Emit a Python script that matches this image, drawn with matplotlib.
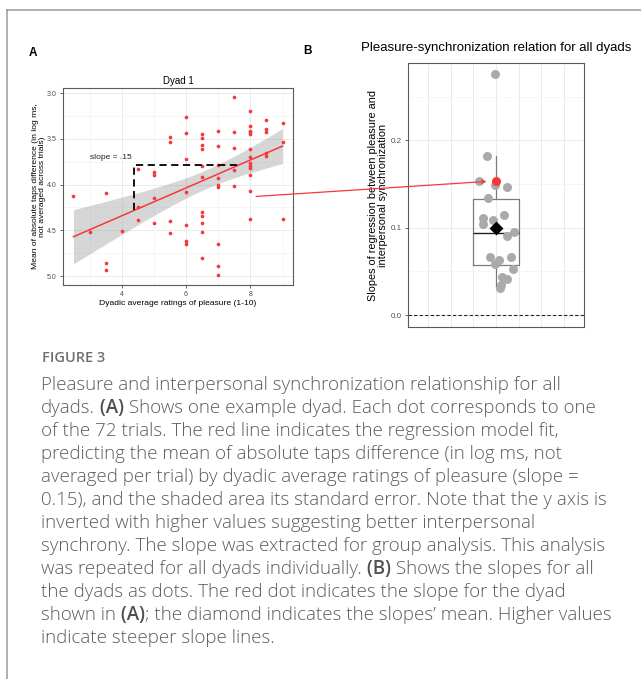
import numpy as np
import matplotlib
matplotlib.use('Agg')
import matplotlib.pyplot as plt
from matplotlib.patches import ConnectionPatch
from matplotlib.lines import Line2D

# ---- Panel A data (one dyad, one dot per trial) ----
pleasure = ([2.5, 3.0] + [3.5] * 3 + [4.0] + [4.5] * 3 + [5.0] * 4 + [5.5] * 4 +
            [6.0] * 7 + [6.5] * 11 + [7.0] * 9 + [7.5] * 5 + [8.0] * 13 +
            [8.5] * 5 + [9.0] * 3)
taps_diff = [4.12, 4.52,
             4.09, 4.86, 4.93,
             4.51,
             3.83, 4.25, 4.39,
             3.86, 3.90, 4.15, 4.42,
             3.48, 3.54, 4.40, 4.53,
             3.26, 3.44, 3.72, 4.08, 4.44, 4.62, 4.65,
             3.45, 3.49, 3.57, 3.61, 3.80, 3.92, 4.30, 4.34, 4.42, 4.52, 4.80,
             3.41, 3.58, 3.79, 3.93, 4.01, 4.03, 4.65, 4.89, 4.99,
             3.04, 3.43, 3.60, 3.84, 4.02,
             3.20, 3.36, 3.41, 3.43, 3.45, 3.61, 3.70, 3.77, 3.80, 3.82, 3.90, 4.07, 4.38,
             3.30, 3.39, 3.43, 3.66, 3.69,
             3.33, 3.53, 4.38]

# ---- Panel B data (slopes of all dyads) ----
slopes = [0.276, 0.182, 0.153, 0.149, 0.147, 0.134, 0.111, 0.104, 0.109, 0.115,
          0.095, 0.091, 0.066, 0.063, 0.058, 0.066, 0.053, 0.044, 0.041, 0.034, 0.031]
jitter = [-0.003, -0.040, -0.075, -0.006, 0.049, -0.037, -0.056, -0.057, -0.013, 0.037,
          0.079, 0.049, -0.028, 0.015, -0.006, 0.066, 0.075, 0.025, 0.049, 0.021, 0.018]
example_slope = 0.153
mean_slope = 0.0996
box_stats = dict(med=0.094, q1=0.057, q3=0.133, whislo=0.032, whishi=0.182)

caption_title = "FIGURE 3"
caption_lines = [
    [("Pleasure and interpersonal synchronization relationship for all", False)],
    [("dyads.", False), (" (A)", True), (" Shows one example dyad. Each dot corresponds to one", False)],
    [("of the 72 trials. The red line indicates the regression model fit,", False)],
    [("predicting the mean of absolute taps difference (in log ms, not", False)],
    [("averaged per trial) by dyadic average ratings of pleasure (slope =", False)],
    [("0.15), and the shaded area its standard error. Note that the y axis is", False)],
    [("inverted with higher values suggesting better interpersonal", False)],
    [("synchrony. The slope was extracted for group analysis. This analysis", False)],
    [("was repeated for all dyads individually.", False), (" (B)", True),
     (" Shows the slopes for all", False)],
    [("the dyads as dots. The red dot indicates the slope for the dyad", False)],
    [("shown in", False), (" (A)", True),
     ("; the diamond indicates the slopes\u2019 mean. Higher values", False)],
    [("indicate steeper slope lines.", False)],
]

W, H = 641, 679
plt.rcParams['font.family'] = ['Liberation Sans', 'DejaVu Sans']
fig = plt.figure(figsize=(W / 100, H / 100), dpi=100)

RED = '#F8373A'
GRID = '#EBEBEB'
BORDER = '#5A5A5A'
TICK = '#4D4D4D'


def px_axes(l, t, r, b):
    return fig.add_axes([l / W, 1 - b / H, (r - l) / W, (b - t) / H])


def style_axes(ax):
    for s in ax.spines.values():
        s.set_color(BORDER)
        s.set_linewidth(0.8)
    ax.tick_params(colors=TICK, labelcolor=TICK, length=2.5, width=0.6)
    ax.set_axisbelow(True)


# ---- Panel A ----
ax1 = px_axes(63, 88, 293, 285)
style_axes(ax1)
x = np.array(pleasure)
y = np.array(taps_diff)
b, a = np.polyfit(x, y, 1)
xs = np.linspace(x.min(), x.max(), 100)
yfit = a + b * xs
resid = y - (a + b * x)
s = np.sqrt(np.sum(resid ** 2) / (len(x) - 2))
se = s * np.sqrt(1 / len(x) + (xs - x.mean()) ** 2 / np.sum((x - x.mean()) ** 2))
ax1.fill_between(xs, yfit - 1.99 * se, yfit + 1.99 * se, color='#999999', alpha=0.4,
                 lw=0, zorder=2)
ax1.scatter(x, y, s=7, color=RED, zorder=3, lw=0)
ax1.plot(xs, yfit, color=RED, lw=1.1, zorder=4)
ax1.plot([4.38, 4.38, 7.6], [4.28, 3.79, 3.79], color='black', lw=1.3,
         ls=(0, (4, 2.5)), zorder=5)
ax1.text(3.65, 3.70, 'slope = .15', fontsize=6, ha='center', va='center', color='#222222')
ax1.set_xlim(2.175, 9.325)
ax1.set_ylim(5.098, 2.945)
ax1.set_xticks([4, 6, 8])
ax1.set_xticks([3, 5, 7, 9], minor=True)
ax1.set_yticks([3.0, 3.5, 4.0, 4.5, 5.0])
ax1.set_yticks([3.25, 3.75, 4.25, 4.75], minor=True)
ax1.set_yticklabels(['3.0', '3.5', '4.0', '4.5', '5.0'])
ax1.tick_params(which='both', labelsize=5, pad=2)
ax1.tick_params(which='minor', length=0)
ax1.grid(True, which='major', color=GRID, lw=0.7)
ax1.grid(True, which='minor', color='#F3F3F3', lw=0.5)
ax1.set_title('Dyad 1', fontsize=7, pad=3)
ax1.set_xlabel('Dyadic average ratings of pleasure (1-10)', fontsize=6.1, labelpad=1.5)
ax1.set_ylabel('Mean of absolute taps difference (in log ms,\nnot averaged across trials)',
               fontsize=6.1, labelpad=0.5, linespacing=1.05)

# ---- Panel B ----
ax2 = px_axes(408, 63, 584, 327)
style_axes(ax2)
ax2.bxp([dict(box_stats, fliers=[])], positions=[0], widths=0.2, showfliers=False,
        boxprops=dict(color='#7A7A7A', lw=0.9),
        whiskerprops=dict(color='#7A7A7A', lw=0.9),
        capprops=dict(lw=0), medianprops=dict(color='#222222', lw=1.0), zorder=2)
ax2.scatter(jitter, slopes, s=42, color='#AAAAAA', lw=0, zorder=3)
ax2.scatter([0], [example_slope], s=42, color=RED, lw=0, zorder=4)
ax2.scatter([0], [mean_slope], s=50, marker='D', color='black', lw=0, zorder=5)
ax2.axhline(0, color='#222222', lw=0.8, ls=(0, (3, 2)), zorder=2)
ax2.set_xlim(-0.39, 0.39)
ax2.set_ylim(-0.0137, 0.2887)
ax2.set_xticks([-0.3, -0.2, -0.1, 0, 0.1, 0.2, 0.3])
ax2.set_xticklabels([])
ax2.tick_params(axis='x', length=0)
ax2.set_yticks([0.0, 0.1, 0.2])
ax2.set_yticks([0.05, 0.15, 0.25], minor=True)
ax2.tick_params(which='minor', length=0)
ax2.tick_params(axis='y', labelsize=5.8, pad=2)
ax2.grid(True, which='major', color=GRID, lw=0.7)
ax2.grid(True, which='minor', axis='y', color='#F3F3F3', lw=0.5)
ax2.set_title('Pleasure-synchronization relation for all dyads', fontsize=9.5, pad=9)
ax2.set_ylabel('Slopes of regression between pleasure and\ninterpersonal synchronization',
               fontsize=7.8, labelpad=2, linespacing=1.0)

# arrow from panel A to the example dyad in panel B
con = ConnectionPatch(xyA=(8.18, 4.13), coordsA=ax1.transData,
                      xyB=(-0.042, example_slope), coordsB=ax2.transData,
                      arrowstyle='->', color=RED, lw=0.9, mutation_scale=6, zorder=10)
fig.add_artist(con)

# panel letters
fig.text(33 / W, 1 - 53 / H, 'A', fontsize=8.5, fontweight='bold', ha='center', va='center')
fig.text(308 / W, 1 - 51 / H, 'B', fontsize=8.5, fontweight='bold', ha='center', va='center')

# frame lines
fig.add_artist(Line2D([7 / W, 1], [1 - 10 / H, 1 - 10 / H], color='#9A9A9A', lw=1.1))
fig.add_artist(Line2D([7 / W, 7 / W], [0, 1 - 10 / H], color='#9A9A9A', lw=1.1))

# ---- caption ----
CAP = ['Open Sans', 'DejaVu Sans']
renderer = fig.canvas.get_renderer()
probe = fig.text(0, 0, caption_lines[0][0][0], fontsize=11, family=CAP, fontweight='light')
cap_size = 11 * 521 / probe.get_window_extent(renderer).width
probe.remove()

fig.text(42 / W, 1 - 362 / H, caption_title, fontsize=cap_size * 0.78, family=CAP,
         color='#707070', fontweight='semibold', va='baseline')
for i, segs in enumerate(caption_lines):
    xp = 41
    yb = 1 - (390 + 23 * i) / H
    for txt, bold in segs:
        t = fig.text(xp / W, yb, txt, fontsize=cap_size, family=CAP, va='baseline',
                     color='#505050' if bold else '#5C5C5C',
                     fontweight='semibold' if bold else 'light')
        xp += t.get_window_extent(renderer).width

fig.savefig('out.png', dpi=100)
